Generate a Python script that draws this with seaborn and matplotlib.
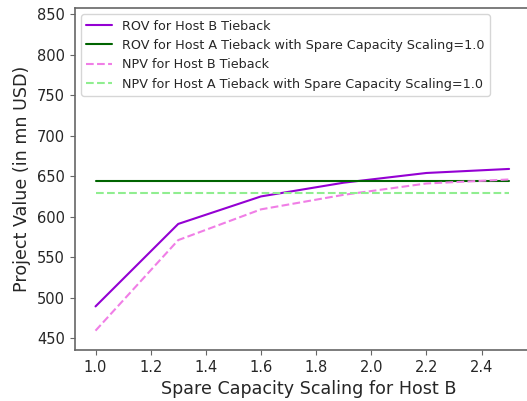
import matplotlib
matplotlib.use("Agg")
import matplotlib.pyplot as plt
import seaborn as sns
import pandas as pd

scaling = [1.0, 1.3, 1.6, 1.9, 2.2, 2.5]
rov_host_b = [489, 591, 625, 642, 654, 659]
rov_host_a = [643.5, 643.5, 643.5, 643.5, 643.5, 643.5]
npv_host_b = [459, 571, 609, 627, 641, 646]
npv_host_a = [629, 629, 629, 629, 629, 629]

labels = ["ROV for Host B Tieback",
          "ROV for Host A Tieback with Spare Capacity Scaling=1.0",
          "NPV for Host B Tieback",
          "NPV for Host A Tieback with Spare Capacity Scaling=1.0"]
colors = ["#9400D3", "#006400", "#F07EE6", "#90EE90"]
styles = ["-", "-", "--", "--"]

sns.set_style("ticks")
plt.rcParams['font.family'] = ['DejaVu Sans']

fig = plt.figure(figsize=(5.27, 4.01), dpi=100)
ax = fig.add_axes([0.142, 0.127, 0.8868, 0.853])

series = [rov_host_b, rov_host_a, npv_host_b, npv_host_a]
for lab, vals, c, ls in zip(labels, series, colors, styles):
    df = pd.DataFrame({"x": scaling, "y": vals})
    sns.lineplot(data=df, x="x", y="y", ax=ax, color=c, linestyle=ls,
                 linewidth=1.5, label=lab)

ax.set_xlim(0.925, 2.62)
ax.set_ylim(435, 858)
ax.set_xticks([1.0, 1.2, 1.4, 1.6, 1.8, 2.0, 2.2, 2.4])
ax.set_yticks([450, 500, 550, 600, 650, 700, 750, 800, 850])
for s in ax.spines.values():
    s.set_color("0.4")
    s.set_linewidth(1.2)
ax.tick_params(labelsize=10.5, color="0.4")
ax.set_xlabel("Spare Capacity Scaling for Host B", fontsize=12.6)
ax.set_ylabel("Project Value (in mn USD)", fontsize=12.6)
ax.legend(loc="upper left", fontsize=9.2)

fig.savefig("out.png", dpi=100)
